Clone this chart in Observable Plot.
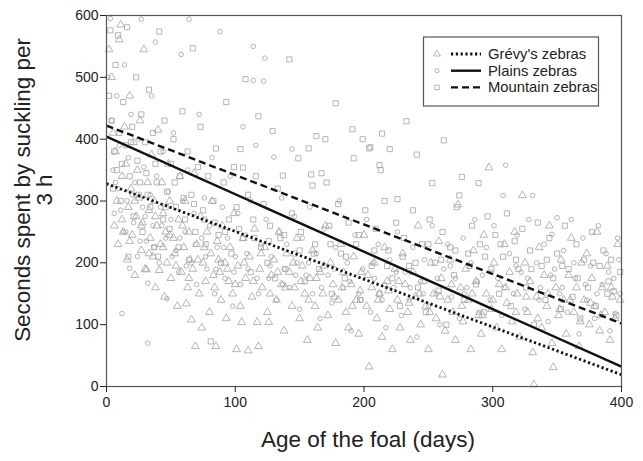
<!DOCTYPE html>
<html>
<head>
<meta charset="utf-8">
<script src="https://cdn.jsdelivr.net/npm/d3@7"></script>
<script src="https://cdn.jsdelivr.net/npm/@observablehq/plot@0.6"></script>
<style>
  body { margin: 0; background: #fff; }
  #chart svg { font-family: "Liberation Sans", Arial, sans-serif; }
</style>
</head>
<body>
<div id="chart"></div>
<script>
const xTicks = [0, 100, 200, 300, 400];
const yTicks = [0, 100, 200, 300, 400, 500, 600];
const seriesNames = ["Grévy's zebras", "Plains zebras", "Mountain zebras"];
const seriesSymbols = ["triangle", "circle", "square"];
const seriesDash = ["2.2,2.6", null, "7,4"];
// regression lines: [age, seconds] at start and end
const grevyLine = [[0, 328], [400, 19]];
const plainsLine = [[0, 404], [400, 32]];
const mountainLine = [[0, 422], [400, 102]];

const grevy = [[2,545],[4,500],[5,410],[6,260],[7,380],[8,300],[9,230],[10,561],[11,585],[12,340],[13,250],[14,420],[15,360],[16,205],[17,290],[18,470],[19,320],[20,245],[21,395],[22,180],[23,275],[24,350],[25,305],[26,430],[27,220],[28,265],[29,545],[30,190],[31,189],[32,330],[33,285],[34,240],[35,375],[36,210],[37,300],[38,160],[39,260],[40,415],[41,188],[42,230],[43,330],[44,280],[45,145],[46,250],[47,200],[48,360],[49,300],[50,175],[52,240],[53,215],[55,130],[56,270],[57,340],[58,185],[60,225],[61,300],[62,134],[63,160],[64,250],[65,205],[66,108],[67,190],[68,345],[69,65],[70,230],[72,150],[73,275],[74,95],[75,200],[77,170],[78,250],[80,120],[81,215],[82,300],[84,160],[85,65],[86,235],[88,185],[89,140],[90,260],[92,200],[93,110],[95,170],[96,225],[98,150],[99,280],[101,60],[102,195],[104,130],[105,104],[106,240],[108,175],[110,58],[111,210],[113,145],[115,255],[117,104],[118,65],[119,190],[121,160],[123,225],[125,120],[126,104],[128,180],[130,205],[132,140],[134,250],[136,165],[138,90],[140,215],[142,185],[144,130],[146,160],[148,240],[150,110],[152,195],[154,150],[156,75],[158,175],[160,220],[162,130],[164,95],[166,185],[168,150],[170,260],[172,115],[174,200],[176,165],[178,70],[180,140],[182,230],[184,185],[186,120],[188,95],[190,165],[192,210],[194,140],[196,85],[198,185],[200,245],[202,130],[204,32],[206,160],[208,200],[210,110],[212,150],[214,80],[216,225],[218,170],[220,125],[222,60],[224,190],[226,140],[228,95],[230,215],[232,165],[234,120],[236,75],[238,185],[240,145],[242,260],[244,100],[246,170],[248,130],[250,60],[252,200],[254,150],[256,110],[258,235],[260,175],[261,19],[263,90],[265,140],[267,205],[269,120],[271,75],[273,294],[275,160],[277,105],[279,190],[281,140],[283,60],[285,220],[287,170],[289,115],[291,85],[293,245],[295,150],[297,354],[299,125],[301,200],[303,95],[305,165],[307,60],[309,230],[311,135],[313,185],[315,105],[317,250],[319,150],[321,80],[323,309],[325,200],[327,120],[329,170],[331,55],[332,3],[334,145],[336,225],[338,95],[340,180],[342,130],[344,260],[346,70],[347,31],[349,160],[351,115],[353,205],[355,140],[357,85],[359,180],[361,240],[363,120],[365,160],[367,65],[369,200],[371,140],[373,215],[375,100],[377,175],[379,130],[381,250],[383,90],[385,160],[387,120],[389,195],[391,75],[393,145],[395,110],[397,230],[399,140],
[12,270],[18,235],[22,300],[27,260],[33,215],[38,275],[44,225],[49,245],[54,195],[59,260],[64,175],[71,205],[76,225],[83,180],[87,205],[94,190],[100,165],[107,200],[114,170],[120,215],[127,150],[133,185],[139,160],[145,200],[151,170],[157,140],[163,175],[169,195],[177,145],[183,160],[191,130],[197,155],[203,180],[211,140],[219,155],[227,170],[235,135],[243,150],[251,120],[259,145],[268,165],[276,130],[284,150],[292,115],[300,140],[310,160],[318,120],[326,145],[335,110],[343,150],[352,125],[360,140],[368,105],[376,135],[384,115],[392,160]];

const plains = [[1,500],[3,595],[4,430],[5,350],[6,280],[8,470],[9,320],[10,390],[12,118],[13,250],[14,520],[16,300],[17,370],[18,191],[19,440],[21,265],[22,330],[24,210],[25,400],[27,594],[28,290],[29,355],[31,235],[32,70],[32,167],[34,310],[35,470],[36,260],[38,557],[39,340],[41,200],[42,290],[44,380],[46,240],[47,142],[48,315],[50,270],[52,410],[54,220],[56,185],[58,537],[59,300],[61,250],[63,350],[64,594],[66,200],[68,280],[70,165],[72,440],[74,240],[76,305],[78,190],[80,260],[82,370],[84,150],[86,225],[88,574],[90,290],[92,175],[94,240],[96,340],[98,130],[100,210],[102,280],[104,165],[106,420],[108,245],[110,190],[112,300],[114,495],[114,550],[116,390],[118,150],[120,230],[122,494],[123,531],[124,270],[126,175],[128,210],[130,371],[132,140],[134,250],[136,305],[138,190],[140,230],[142,160],[144,384],[146,275],[148,200],[150,125],[152,240],[155,180],[158,290],[160,150],[163,215],[166,110],[169,255],[172,180],[175,135],[178,225],[181,300],[184,160],[187,200],[190,90],[193,245],[196,150],[199,190],[202,270],[205,120],[208,175],[211,230],[214,140],[217,95],[220,205],[223,160],[226,250],[229,115],[232,185],[235,140],[238,225],[241,80],[244,170],[247,205],[250,130],[253,260],[256,150],[259,100],[262,190],[265,230],[268,145],[271,175],[274,110],[277,240],[280,160],[283,200],[286,270],[289,120],[292,180],[295,225],[298,140],[301,260],[304,175],[307,115],[308,309],[310,358],[313,215],[316,150],[319,245],[322,185],[325,125],[328,270],[331,309],[334,200],[337,160],[340,230],[343,105],[346,246],[348,190],[350,273],[352,150],[355,220],[358,120],[361,270],[364,175],[367,85],[370,240],[373,140],[376,195],[379,110],[382,260],[385,165],[388,215],[391,90],[394,175],[395,118],[397,240],[399,150],
[7,330],[11,285],[15,250],[20,310],[26,235],[30,275],[37,225],[43,260],[51,210],[57,240],[62,195],[69,230],[77,210],[85,190],[91,225],[99,185],[109,215],[117,175],[127,195],[137,165],[147,180],[157,200],[167,160],[177,190],[189,170],[198,140],[207,200],[216,165],[225,185],[236,160],[246,150],[257,175],[267,195],[278,150],[288,170],[299,185],[309,160],[318,195],[327,175],[336,140],[345,180],[354,160],[363,200],[372,165],[381,150],[390,185],[398,205]];

const mountain = [[2,470],[3,576],[4,430],[6,380],[7,520],[8,350],[9,568],[10,410],[11,300],[13,460],[15,390],[16,581],[17,210],[18,340],[20,420],[21,275],[23,500],[24,365],[25,310],[27,440],[28,250],[30,395],[31,345],[33,480],[34,290],[36,410],[37,225],[39,330],[40,210],[41,574],[42,380],[44,270],[45,430],[47,315],[49,255],[50,360],[52,400],[54,290],[56,225],[57,340],[59,445],[61,270],[63,380],[64,205],[66,310],[67,547],[69,250],[71,355],[73,420],[75,285],[77,230],[79,340],[81,73],[83,300],[85,385],[87,245],[89,200],[91,330],[93,460],[95,270],[97,215],[99,355],[101,290],[104,384],[106,354],[106,240],[108,497],[110,310],[112,185],[114,270],[116,340],[118,437],[120,225],[122,295],[125,200],[127,260],[129,413],[131,175],[133,320],[135,240],[137,341],[139,190],[142,529],[144,280],[146,215],[149,369],[151,250],[154,170],[157,385],[159,343],[160,325],[162,230],[163,405],[165,190],[167,345],[170,400],[171,330],[173,260],[175,150],[178,458],[180,295],[182,215],[185,175],[188,265],[191,416],[192,369],[194,230],[197,140],[199,400],[201,285],[204,385],[205,387],[206,195],[209,255],[212,150],[212,358],[213,350],[214,409],[216,300],[219,220],[220,384],[222,175],[225,265],[226,303],[228,130],[231,240],[233,429],[235,195],[238,285],[241,375],[242,160],[245,230],[248,120],[251,270],[253,329],[255,200],[258,155],[261,250],[262,398],[264,100],[267,225],[270,180],[272,290],[274,309],[276,339],[278,140],[281,215],[284,260],[287,165],[289,329],[290,230],[293,120],[296,275],[299,190],[302,245],[305,150],[308,210],[311,280],[314,130],[317,235],[320,190],[323,255],[326,160],[329,220],[332,100],[335,265],[338,195],[341,140],[344,240],[347,175],[350,215],[353,125],[356,260],[359,190],[362,145],[365,230],[368,110],[371,205],[374,160],[377,250],[380,130],[383,195],[386,220],[389,150],[392,205],[394,154],[396,115],[399,185],
[5,320],[12,360],[19,395],[26,330],[32,310],[38,360],[46,290],[53,330],[60,305],[68,295],[76,270],[84,265],[92,250],[103,255],[115,240],[126,235],[138,245],[150,220],[161,215],[174,230],[186,210],[196,245],[208,220],[218,195],[230,210],[240,200],[250,230],[260,205],[271,220],[282,195],[294,210],[306,230],[318,205],[330,190],[342,205],[354,195],[366,175],[378,200],[390,170]];

const W = 643, H = 461;
const mL = 106, mR = 22, mT = 15, mB = 75;
const pts = [grevy, plains, mountain];
const lines = [grevyLine, plainsLine, mountainLine];
const ptColor = "#a3a3a3";

const marks = [];
pts.forEach((arr, i) => {
  marks.push(Plot.dot(arr, {x: d => d[0], y: d => d[1], symbol: () => seriesSymbols[i],
    r: i === 1 ? 2.3 : 2.9, stroke: ptColor, strokeWidth: 0.8, fill: "none"}));
});
lines.forEach((l, i) => {
  marks.push(Plot.line(l, {x: d => d[0], y: d => d[1], stroke: "#111",
    strokeWidth: i === 0 ? 2.8 : 2.4, strokeDasharray: seriesDash[i], strokeLinecap: "butt"}));
});
marks.push(Plot.frame({stroke: "#555", strokeWidth: 1.2}));
marks.push(Plot.axisX({ticks: xTicks, tickSize: 6, tickPadding: 5, fontSize: 14, label: null, color: "#222", tickFormat: d => d}));
marks.push(Plot.axisY({ticks: yTicks, tickSize: 6, tickPadding: 2, fontSize: 14, label: null, color: "#222", tickFormat: d => d}));

const chart = Plot.plot({
  width: W, height: H,
  marginLeft: mL, marginRight: mR, marginTop: mT, marginBottom: mB,
  x: {domain: [0, 400]},
  y: {domain: [0, 600]},
  symbol: {type: "identity"},
  style: {fontFamily: "'Liberation Sans', Arial, sans-serif", color: "#222", background: "#fff"},
  marks
});
document.getElementById("chart").appendChild(chart);

const svg = d3.select(chart);
// axis titles
svg.append("text").attr("x", 368).attr("y", 447)
  .attr("text-anchor", "middle").attr("font-size", 22.5).attr("fill", "#222")
  .text("Age of the foal (days)");
const yl = svg.append("text").attr("transform", "translate(30,190) rotate(-90)")
  .attr("text-anchor", "middle").attr("font-size", 22.4).attr("fill", "#222");
yl.append("tspan").attr("x", 0).attr("dy", 0).text("Seconds spent by suckling per");
yl.append("tspan").attr("x", 0).attr("dy", 22).text("3 h");

// legend
const lg = svg.append("g");
lg.append("rect").attr("x", 423.5).attr("y", 37).attr("width", 175).attr("height", 69)
  .attr("fill", "#fff").attr("stroke", "#555").attr("stroke-width", 1.2);
const symGen = {triangle: d3.symbolTriangle, circle: d3.symbolCircle, square: d3.symbolSquare};
seriesNames.forEach((name, i) => {
  const cy = 54 + i * 16.7;
  lg.append("path").attr("transform", `translate(437,${cy})`)
    .attr("d", d3.symbol(symGen[seriesSymbols[i]], i === 1 ? 14 : 20)())
    .attr("fill", "none").attr("stroke", ptColor).attr("stroke-width", 0.8);
  lg.append("line").attr("x1", 451).attr("x2", 481).attr("y1", cy).attr("y2", cy)
    .attr("stroke", "#111").attr("stroke-width", i === 0 ? 2.8 : 2.4)
    .attr("stroke-dasharray", seriesDash[i]);
  lg.append("text").attr("x", 488).attr("y", cy + 5).attr("font-size", 14.8)
    .attr("text-anchor", "start").attr("fill", "#222").text(name);
});
</script>
</body>
</html>
